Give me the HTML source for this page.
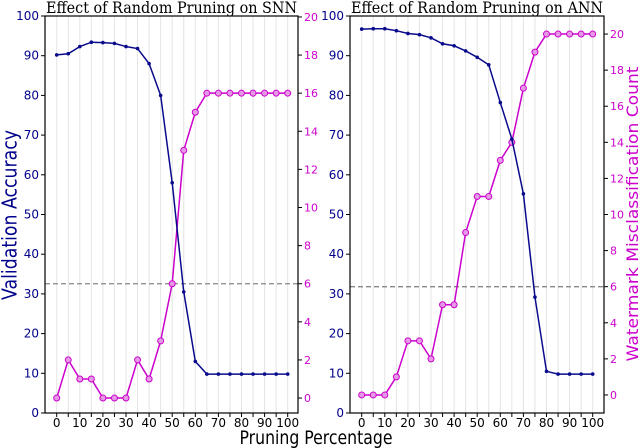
<!DOCTYPE html>
<html><head><meta charset="utf-8"><style>
html,body{margin:0;padding:0;background:#fff;width:640px;height:448px;overflow:hidden}
svg text{font-family:"DejaVu Sans","Liberation Sans",sans-serif}
</style></head><body>
<svg id="c" width="640" height="448" viewBox="0 0 640 448" xmlns="http://www.w3.org/2000/svg">
<text x="11" y="215" transform="rotate(-90 11 215)" text-anchor="middle" dominant-baseline="middle" font-size="20" textLength="170" lengthAdjust="spacingAndGlyphs" fill="#00008b">Validation Accuracy</text>
<text x="633.5" y="214" transform="rotate(-90 633.5 214)" text-anchor="middle" dominant-baseline="middle" font-size="16" textLength="295" lengthAdjust="spacingAndGlyphs" fill="#cc00cc">Watermark Misclassification Count</text>
<text x="316" y="444" text-anchor="middle" font-size="19" textLength="153" lengthAdjust="spacingAndGlyphs" fill="#000">Pruning Percentage</text>
</svg>
<script>
const xs=[0,5,10,15,20,25,30,35,40,45,50,55,60,65,70,75,80,85,90,95,100];
const xTicks=[0,10,20,30,40,50,60,70,80,90,100];
const accTicks=[0,10,20,30,40,50,60,70,80,90,100];
const snnAcc=[90.2,90.5,92.3,93.4,93.3,93.1,92.3,91.8,88,80,58,30.5,13,9.8,9.8,9.8,9.8,9.8,9.8,9.8,9.8];
const snnWm=[0,2,1,1,0,0,0,2,1,3,6,13,15,16,16,16,16,16,16,16,16];
const annAcc=[96.7,96.8,96.8,96.3,95.6,95.3,94.5,93,92.5,91.2,89.6,87.7,78.2,69,55.2,29.2,10.5,9.8,9.8,9.8,9.8];
const annWm=[0,0,0,1,3,3,2,5,5,9,11,11,13,14,17,19,20,20,20,20,20];
const wmTicks=[0,2,4,6,8,10,12,14,16,18,20];
const threshold=6;
const NS="http://www.w3.org/2000/svg";
const svg=document.getElementById('c');
function mk(t,a,p){const e=document.createElementNS(NS,t);for(const k in a)e.setAttribute(k,a[k]);(p||svg).appendChild(e);return e;}
const BLUE="#0a0a8c",MAG="#cc00cc";
const panels=[
 {name:'snn',title:'Effect of Random Pruning on SNN',box:[45,298],x0:56.7,x1:287.7,wmMin:-0.785,wmMax:20.05,acc:snnAcc,wm:snnWm},
 {name:'ann',title:'Effect of Random Pruning on ANN',box:[350,604],x0:361.7,x1:592.7,wmMin:-1.0,wmMax:21.0,acc:annAcc,wm:annWm}
];
const TOP=16,BOT=413;
panels.forEach(P=>{
 const g=mk('g',{});
 
 
 const X=v=>P.x0+(P.x1-P.x0)*v/100;
 const YA=v=>BOT-(BOT-TOP)*v/100;
 const YW=v=>BOT-(BOT-TOP)*(v-P.wmMin)/(P.wmMax-P.wmMin);
 xs.forEach(v=>{const l=mk('line',{x1:X(v),x2:X(v),y1:TOP,y2:BOT,stroke:'#e4e4e4','stroke-width':1},g);
  });
 const t=mk('text',{x:(P.box[0]+P.box[1])/2,y:13,'text-anchor':'middle','font-size':16,fill:'#000',textLength:P.box[1]-P.box[0]-2,lengthAdjust:'spacingAndGlyphs',style:'font-family:"DejaVu Serif","Liberation Serif",serif'},g);
 t.textContent=P.title;
 const d=mk('line',{x1:P.box[0],x2:P.box[1],y1:YW(threshold),y2:YW(threshold),stroke:'#888','stroke-width':1.3,'stroke-dasharray':'5,3'},g);
 
 xs.forEach(v=>{mk('line',{x1:X(v),x2:X(v),y1:BOT,y2:BOT+4,stroke:'#000'},g);});
 xTicks.forEach(v=>{const e=mk('text',{x:X(v),y:BOT+14,'text-anchor':'middle','font-size':12,fill:'#000'},g);e.textContent=v;
  });
 accTicks.forEach(v=>{mk('line',{x1:P.box[0]-4,x2:P.box[0],y1:YA(v),y2:YA(v),stroke:'#000'},g);
  const e=mk('text',{x:P.box[0]-6,y:YA(v)+4,'text-anchor':'end','font-size':12,fill:'#00008b'},g);e.textContent=v;
  });
 wmTicks.forEach(v=>{mk('line',{x1:P.box[1],x2:P.box[1]+4,y1:YW(v),y2:YW(v),stroke:'#000'},g);
  const e=mk('text',{x:P.box[1]+6,y:YW(v)+4,'text-anchor':'start','font-size':11,fill:MAG},g);e.textContent=v;
  });
 const r=mk('rect',{x:P.box[0],y:TOP,width:P.box[1]-P.box[0],height:BOT-TOP,fill:'none',stroke:'#000','stroke-width':1.2},g);
 
 const wl=mk('polyline',{points:xs.map((v,i)=>X(v)+','+YW(P.wm[i])).join(' '),fill:'none',stroke:MAG,'stroke-width':1.5},g);
 
 xs.forEach((v,i)=>{const c=mk('circle',{cx:X(v),cy:YW(P.wm[i]),r:3,fill:'#e59ae5',stroke:MAG,'stroke-width':1},g);
  });
 const al=mk('polyline',{points:xs.map((v,i)=>X(v)+','+YA(P.acc[i])).join(' '),fill:'none',stroke:BLUE,'stroke-width':1.5},g);
 
 xs.forEach((v,i)=>{const c=mk('circle',{cx:X(v),cy:YA(P.acc[i]),r:1.8,fill:BLUE},g);
  });
});
</script>
</body></html>
